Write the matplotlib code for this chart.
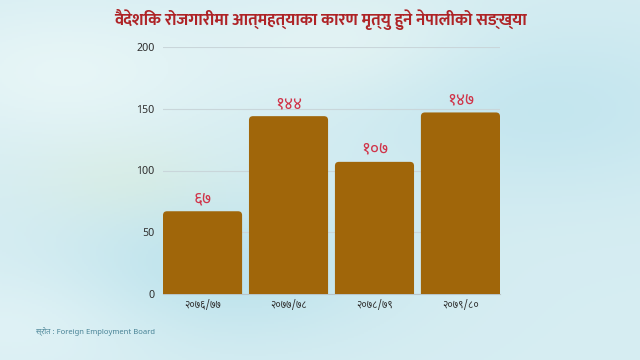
import matplotlib
matplotlib.use("Agg")
import matplotlib.pyplot as plt
import numpy as np
from matplotlib.patches import FancyBboxPatch

categories = ["२०७६/७७", "२०७७/७८", "२०७८/७९", "२०७९/८०"]
values = [67, 144, 107, 147]
value_labels = ["६७", "१४४", "१०७", "१४७"]
yticks = [0, 50, 100, 150, 200]
title = "वैदेशिक रोजगारीमा आत्महत्याका कारण मृत्यु हुने नेपालीको सङ्ख्या"
source = "स्रोत : Foreign Employment Board"

FAM = ['Noto Sans Devanagari', 'Noto Sans', 'DejaVu Sans']
plt.rcParams['font.family'] = FAM

W, H = 640, 360
fig = plt.figure(figsize=(W/100, H/100), dpi=100)

# background gradient (watercolor-like)
bg = fig.add_axes([0, 0, 1, 1], zorder=-10)
yy, xx = np.mgrid[0:1:180j, 0:1:320j]
base = np.array([0.84, 0.93, 0.95])
img = np.ones((180, 320, 3)) * base
def blob(cx, cy, s, col, a):
    g = np.exp(-(((xx-cx)/s)**2 + ((yy-cy)/(s*0.8))**2))[..., None]
    return g * a * (np.array(col) - base)
img += blob(0.35, 0.75, 0.25, [0.72, 0.88, 0.92], 0.8)
img += blob(0.85, 0.3, 0.3, [0.74, 0.89, 0.93], 0.7)
img += blob(0.1, 0.2, 0.25, [0.92, 0.97, 0.97], 0.8)
img += blob(0.55, 0.12, 0.2, [0.93, 0.97, 0.96], 0.6)
img += blob(0.2, 0.5, 0.15, [0.86, 0.93, 0.87], 0.5)
img += blob(0.05, 0.9, 0.2, [0.9, 0.96, 0.97], 0.7)
bg.imshow(np.clip(img, 0, 1), aspect='auto', extent=[0, 1, 0, 1], origin='upper')
bg.axis('off')

ax = fig.add_axes([163/W, 1-294/H, (500-163)/W, (294-47)/H])
ax.set_facecolor('none')
x = np.arange(len(categories))
bars = ax.bar(x, values, width=0.92, color='#A0660A')
ax.set_xlim(-0.46, 3.46)
ax.set_ylim(0, 200)

# rounded tops
px_x = (500-163)/3.92
px_y = (294-47)/200
for b in bars:
    b.set_visible(False)
    r = 4/px_x
    p = FancyBboxPatch((b.get_x(), -20), b.get_width(), b.get_height()+20,
                       boxstyle=f"round,pad=0,rounding_size={r}",
                       mutation_aspect=px_x/px_y, facecolor='#A0660A',
                       edgecolor='none', zorder=3, clip_on=True)
    ax.add_patch(p)

for xi, v, lab in zip(x, values, value_labels):
    ax.annotate(lab, (xi, v), xytext=(0, 3), textcoords='offset points',
                ha='center', va='bottom', fontsize=12.5, color='#D0354A', zorder=4)

ax.set_yticks(yticks)
ax.set_yticklabels([str(t) for t in yticks], fontsize=8, color='#333333')
ax.set_xticks(x)
ax.set_xticklabels(categories, fontsize=7.5, color='#333333')
ax.tick_params(axis='both', length=0)
ax.tick_params(axis='y', pad=6)
ax.tick_params(axis='x', pad=4)
ax.grid(axis='y', color='#c9d6da', linewidth=0.8, zorder=0)
ax.set_axisbelow(True)
for s in ['top', 'right', 'left']:
    ax.spines[s].set_visible(False)
ax.spines['bottom'].set_color('#b8c4c8')
ax.spines['bottom'].set_linewidth(0.8)

fig.text(0.5, 1-20/H, title, ha='center', va='center', fontsize=12,
         fontweight='bold', color='#AE2326',
         family=['Mukta', 'Noto Sans Devanagari', 'DejaVu Sans'])
fig.text(36/W, 1-331/H, source, ha='left', va='center', fontsize=5.5,
         color='#4A8497')

fig.savefig("out.png", dpi=100)
